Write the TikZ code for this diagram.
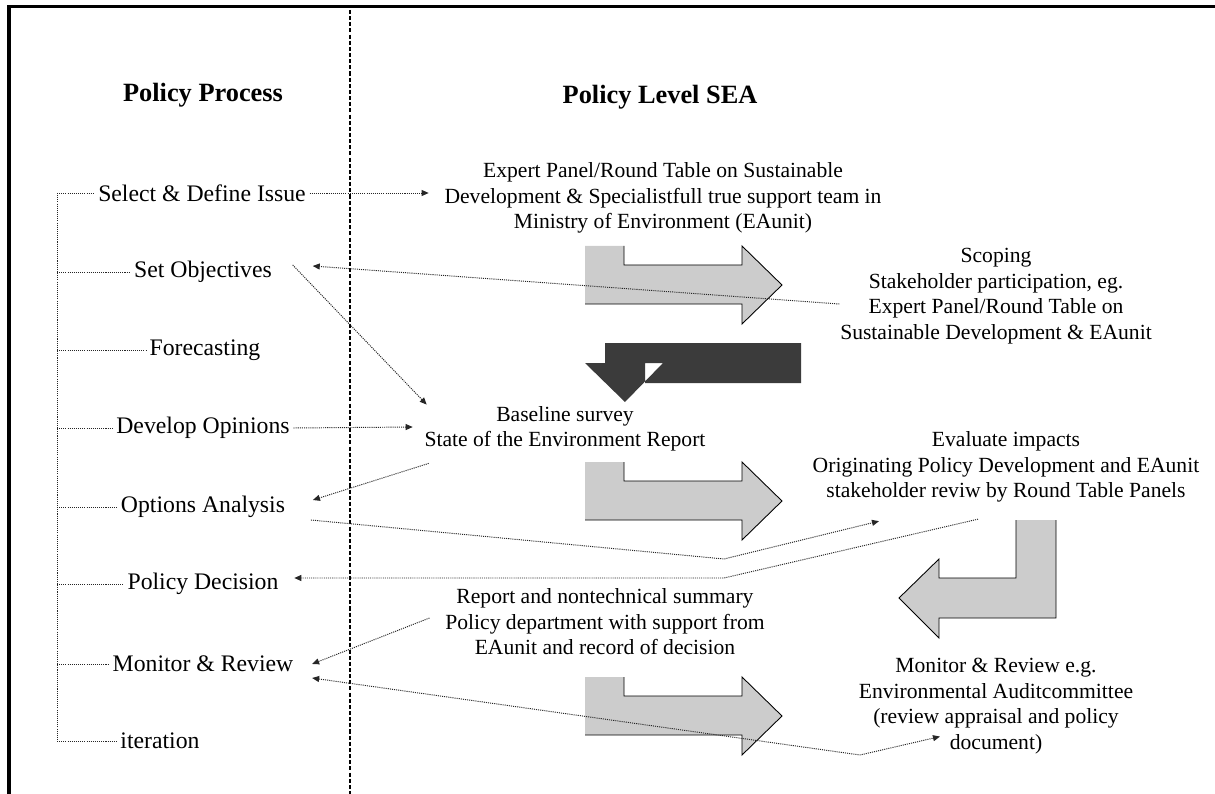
\documentclass[tikz,border=0pt]{standalone}
\usepackage{fontspec}
\setmainfont{Liberation Serif}
\usetikzlibrary{arrows.meta, calc}

\begin{document}
\begin{tikzpicture}[x=0.02cm, y=-0.02cm,
  every node/.style={font=\fontsize{13.5}{15}\selectfont},
  heading/.style={font=\fontsize{15}{17}\selectfont\bfseries},
  stage/.style={inner sep=2pt},
  info/.style={align=center, inner sep=2pt, font=\fontsize{12.3}{14.5}\selectfont},
  dotline/.style={black!85, line width=0.55pt, dash pattern=on 0.6pt off 0.6pt},
  dotarrow/.style={dotline, -{Triangle[length=4pt, width=3.4pt]}},
  twoway/.style={dotline, {Triangle[length=4pt, width=3.4pt]}-{Triangle[length=4pt, width=3.4pt]}},
  bent/.style={fill=gray!40},
  bentedge/.style={draw, line width=0.5pt},
  darkbent/.style={fill=black!77, even odd rule}]
\useasboundingbox (0,0) rectangle (1215,794);

% frame and column divider
\draw[line width=1.9pt] (9,794) -- (9,6.7) -- (1215,6.7);
\draw[line width=0.6pt, dash pattern=on 2.3pt off 1.2pt] (350,10) -- (350,794);

% headings
\node[heading] (hproc) at (203,95) {Policy Process};
\node[heading] (hsea) at (660,97) {Policy Level SEA};

% policy process
\node[stage] (select) at (202,193) {Select \& Define Issue};
\node[stage] (setobj) at (203,272) {Set Objectives};
\node[stage] (forecast) at (205,350) {Forecasting};
\node[stage] (develop) at (203,428) {Develop Opinions};
\node[stage] (options) at (203,507) {Options Analysis};
\node[stage] (decision) at (203,584) {Policy Decision};
\node[stage] (monitor) at (203,664) {Monitor \& Review};
\node[stage] (iter) at (160,741) {iteration};

\coordinate (trunktop) at (57,193);
\coordinate (trunkbot) at (57,741);
\draw[dotline] (trunktop) -- (trunkbot);
\foreach \n in {select,setobj,forecast,develop,options,decision,monitor,iter}
  \draw[dotline] (\n.west -| trunktop) -- (\n.west);

% policy level SEA
\node[info] (expert) at (663,198) {Expert Panel/Round Table on Sustainable\\Development \& Specialistfull true support team in\\Ministry of Environment (EAunit)};
\node[info] (scoping) at (996,296) {Scoping\\Stakeholder participation, eg.\\Expert Panel/Round Table on\\Sustainable Development \& EAunit};
\node[info] (baseline) at (565,429) {Baseline survey\\State of the Environment Report};
\node[info] (evaluate) at (1006,467) {Evaluate impacts\\Originating Policy Development and EAunit\\stakeholder reviw by Round Table Panels};
\node[info] (report) at (605,622) {Report and nontechnical summary\\Policy department with support from\\EAunit and record of decision};
\node[info] (review) at (996,706) {Monitor \& Review e.g.\\Environmental Auditcommittee\\(review appraisal and policy\\document)};

% block arrows
\foreach \dy in {0,216,431}{
  \begin{scope}[shift={(0,\dy)}]
    \fill[bent] (585,246) -- (624,246) -- (624,265) -- (742,265) -- (742,246) -- (782,285) -- (742,324) -- (742,304) -- (585,304) -- cycle;
    \draw[bentedge] (624,246) -- (624,265) -- (742,265) -- (742,246) -- (782,285) -- (742,324) -- (742,304) -- (585,304);
  \end{scope}
}
\fill[darkbent] (801,343) -- (605,343) -- (605,363) -- (585,363) -- (625,402) -- (663,363) -- (645,363) -- (645,383) -- (801,383) -- cycle;
\fill[bent] (1016,520) -- (1056,520) -- (1056,618) -- (939,618) -- (939,638) -- (899,598) -- (939,559) -- (939,578) -- (1016,578) -- cycle;
\draw[bentedge] (1016,520) -- (1016,578) -- (939,578) -- (939,559) -- (899,598) -- (939,638) -- (939,618) -- (1056,618) -- (1056,520);

% connectors
\coordinate (kinkup) at (724,559);
\coordinate (kinkdec) at (724,578);
\coordinate (kinkrev) at (860,755);
\draw[dotarrow, shorten >=0.24cm] (select.east) -- (select.east -| expert.west);
\draw[dotarrow] ($(scoping.west)+(3,8)$) -- ($(setobj.east)+(37,-6)$);
\draw[dotarrow] ($(setobj.east)+(17,-7)$) -- ($(baseline.north west)+(6,2)$);
\draw[dotarrow] (develop.east) -- ($(baseline.west)+(-8,-2)$);
\draw[dotarrow] ($(baseline.south west)+(8,8)$) -- ($(options.east)+(24,-7)$);
\draw[dotarrow] ($(options.east)+(22,13)$) -- (kinkup) -- ($(evaluate.south)+(-127,15)$);
\draw[dotarrow] ($(evaluate.south)+(-28,13)$) -- (kinkdec) -- ($(decision.east)+(12,-6)$);
\draw[dotarrow] ($(report.west)+(-12,-4)$) -- ($(monitor.east)+(15,0)$);
\draw[twoway] ($(monitor.east)+(15,14)$) -- (kinkrev) -- ($(review.south west)+(85,-21)$);

\end{tikzpicture}
\end{document}
